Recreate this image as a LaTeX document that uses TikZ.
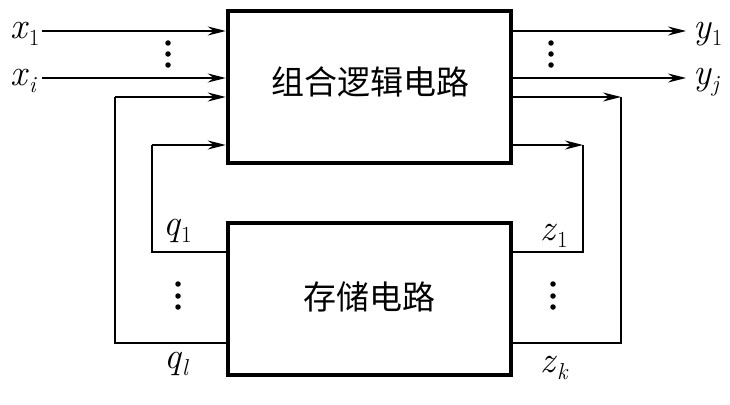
\documentclass[tikz,border=0pt]{standalone}
\usepackage{fontspec}
\newfontfamily\cjk{Noto Sans CJK SC}
\newcommand\sublab[2]{\textit{#1}\raisebox{-0.2em}{\fontsize{23}{25}\selectfont #2}}
\usetikzlibrary{arrows.meta}
\begin{document}
\begin{tikzpicture}[x=1pt,y=-1pt,
  wire/.style={line width=1.6pt},
  arr/.style={wire,-{Stealth[length=18pt,width=9pt,inset=6pt]}},
  blk/.style={draw,line width=4.5pt,minimum width=283pt,minimum height=152pt,inner sep=0pt},
  cjktext/.style={font=\cjk\fontsize{33}{40}\selectfont,inner sep=0pt},
  lbl/.style={font=\fontsize{37}{40}\selectfont,inner sep=0pt,anchor=base west},
  vdot/.style={circle,fill,inner sep=0pt,minimum size=5.5pt}]
\useasboundingbox (0,0) rectangle (730,404);

% blocks
\node[blk] (top) at (369.5,87) {};
\node[cjktext] (toptext) at (370,82) {组合逻辑电路};
\node[blk] (bot) at (369.5,299) {};
\node[cjktext] (bottext) at (369,297) {存储电路};

% inputs
\coordinate (x1s) at (42,31);
\coordinate (xis) at (42,78);
\draw[arr] (x1s) -- (x1s -| top.west);
\draw[arr] (xis) -- (xis -| top.west);
\node[lbl] (lx1) at (10,38) {\sublab{x}{1}};
\node[lbl] (lxi) at (10,85) {\sublab{x}{\textit{i}}};

% outputs
\coordinate (y1e) at (686,31);
\coordinate (yje) at (686,78);
\draw[arr] (top.east |- y1e) -- (y1e);
\draw[arr] (top.east |- yje) -- (yje);
\node[lbl] (ly1) at (693,38) {\sublab{y}{1}};
\node[lbl] (lyj) at (693,84) {\sublab{y}{\textit{j}}};

% left feedback loops
\coordinate (lo) at (115,97);
\coordinate (lob) at (115,343);
\draw[wire] (bot.west |- lob) -- (lob) -- (lo);
\draw[arr] (lo) -- (lo -| top.west);
\coordinate (li) at (152,145);
\coordinate (lib) at (152,252);
\draw[wire] (bot.west |- lib) -- (lib) -- (li);
\draw[arr] (li) -- (li -| top.west);

% right feedback loops
\coordinate (ro) at (621,97);
\coordinate (rob) at (621,343);
\draw[arr] (top.east |- ro) -- (ro);
\draw[wire] (ro) -- (rob) -- (bot.east |- rob);
\coordinate (ri) at (583,145);
\coordinate (rib) at (583,252);
\draw[arr] (top.east |- ri) -- (ri);
\draw[wire] (ri) -- (rib) -- (bot.east |- rib);

% labels of state lines
\node[lbl] (lq1) at (163,235) {\sublab{q}{1}};
\node[lbl] (lql) at (164,368) {\sublab{q}{\textit{l}}};
\node[lbl] (lz1) at (540,240) {\sublab{z}{1}};
\node[lbl] (lzk) at (540,372) {\sublab{z}{\textit{k}}};

% vertical dots
\foreach \n/\x/\y in {a/168/43,b/168/54,c/168/65,d/551/43,e/551/54,f/551/65,
  g/178/284,h/178/296,i/178/307,j/553/284,k/553/296,l/553/307}
  \node[vdot] (dot\n) at (\x,\y) {};
\end{tikzpicture}
\end{document}
